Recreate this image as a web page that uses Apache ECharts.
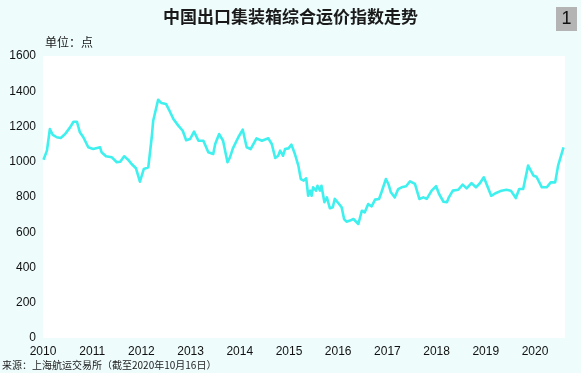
<!DOCTYPE html>
<html>
<head>
<meta charset="utf-8">
<script src="https://cdn.jsdelivr.net/npm/echarts@6/dist/echarts.min.js"></script>
<style>
html,body{margin:0;padding:0;background:#eefcfc;}
#c{width:581px;height:373px;}
</style>
</head>
<body>
<div id="c"></div>
<script>
// Decimal year of each reading
const years = [
2010.01,2010.08,2010.14,2010.20,2010.28,2010.36,2010.45,2010.55,2010.62,2010.69,
2010.75,2010.82,2010.92,2011.02,2011.16,2011.19,2011.28,2011.40,2011.44,2011.50,
2011.57,2011.65,2011.73,2011.80,2011.89,2011.97,2012.05,2012.14,2012.21,2012.24,
2012.34,2012.41,2012.50,2012.58,2012.65,2012.75,2012.84,2012.91,2012.99,2013.07,
2013.16,2013.26,2013.36,2013.46,2013.50,2013.58,2013.66,2013.75,2013.80,2013.86,
2013.90,2013.97,2014.06,2014.14,2014.22,2014.34,2014.45,2014.58,2014.65,2014.72,
2014.78,2014.82,2014.88,2014.92,2014.99,2015.05,2015.12,2015.19,2015.24,2015.30,
2015.35,2015.39,2015.43,2015.46,2015.49,2015.55,2015.58,2015.63,2015.66,2015.72,
2015.77,2015.83,2015.89,2015.93,2016.00,2016.07,2016.12,2016.17,2016.24,2016.31,
2016.41,2016.48,2016.54,2016.61,2016.68,2016.75,2016.83,2016.88,2016.97,2017.02,
2017.07,2017.15,2017.22,2017.29,2017.38,2017.46,2017.56,2017.65,2017.73,2017.80,
2017.90,2017.99,2018.05,2018.14,2018.21,2018.25,2018.33,2018.44,2018.53,2018.61,
2018.71,2018.80,2018.88,2018.96,2019.11,2019.21,2019.32,2019.42,2019.51,2019.61,
2019.68,2019.76,2019.86,2019.97,2020.03,2020.14,2020.24,2020.32,2020.41,2020.47,
2020.58
];
// CCFI index values (点)
const ccfi = [
1011,1063,1186,1152,1139,1135,1157,1195,1227,1227,
1167,1139,1082,1072,1082,1054,1031,1025,1016,997,
1000,1031,1012,987,963,887,959,968,1139,1233,
1352,1333,1328,1284,1243,1205,1176,1122,1129,1171,
1119,1119,1054,1044,1101,1157,1119,997,1025,1076,
1072,1139,1182,1082,1072,1133,1119,1133,1101,1021,
1034,1063,1034,1072,1076,1097,1044,978,902,893,
906,807,836,807,855,836,864,836,864,770,
798,736,742,789,766,742,675,660,666,675,
647,722,713,760,747,785,789,827,902,874,
827,798,845,855,861,889,874,789,798,789,
836,861,817,773,770,798,836,841,870,849,
879,855,878,912,807,823,836,841,836,794,
845,845,978,921,915,855,855,883,883,978,
1082
];
const yearTicks = [2010,2011,2012,2013,2014,2015,2016,2017,2018,2019,2020];
const valueTicks = [0,200,400,600,800,1000,1200,1400,1600];

const chart = echarts.init(document.getElementById('c'), null, {renderer:'canvas'});
const FONT = '"Liberation Sans", Arial, sans-serif';
chart.setOption({
  backgroundColor: '#eefcfc',
  animation: false,
  title: [
    {text: '中国出口集装箱综合运价指数走势', left: 'center', top: 8, padding: 0,
     textStyle: {fontSize: 17, fontWeight: 'bold', color: '#1a1a1a', fontFamily: '"Noto Sans CJK SC", sans-serif'}},
    {text: '单位：点', left: 45, top: 36, padding: 0,
     textStyle: {fontSize: 12, fontWeight: 'normal', color: '#1a1a1a', fontFamily: '"Noto Sans CJK SC", sans-serif'}}
  ],
  graphic: [
    {type: 'rect', shape: {x: 556, y: 7, width: 21, height: 24}, style: {fill: '#b4b4b4'}},
    {type: 'text', x: 566.5, y: 19.5, style: {text: '1', align: 'center', verticalAlign: 'middle', fontSize: 18, fill: '#111', fontFamily: FONT}},
    {type: 'text', x: 2, y: 365, style: {text: '来源：上海航运交易所（截至2020年10月16日）', align: 'left', verticalAlign: 'middle', fontSize: 10, fill: '#222', fontFamily: '"Noto Sans CJK SC", sans-serif'}}
  ],
  grid: {left: 43, right: 16, top: 56, bottom: 35, show: true, backgroundColor: '#ffffff', borderWidth: 0},
  xAxis: {
    type: 'value', min: yearTicks[0], max: 2020.61, interval: 1,
    axisLine: {show: false}, axisTick: {show: false}, splitLine: {show: false},
    axisLabel: {margin: 8, fontSize: 12, color: '#111', fontFamily: FONT, showMaxLabel: false,
      formatter: v => yearTicks.includes(v) ? String(v) : ''}
  },
  yAxis: {
    type: 'value', min: valueTicks[0], max: valueTicks[valueTicks.length-1], interval: 200,
    axisLine: {show: false}, axisTick: {show: false}, splitLine: {show: false},
    axisLabel: {margin: 7, fontSize: 12, color: '#111', fontFamily: FONT,
      formatter: v => String(v)}
  },
  series: [{
    type: 'line',
    data: years.map((y, i) => [y, ccfi[i]]),
    showSymbol: false,
    lineStyle: {color: '#3ef0ee', width: 2.6, join: 'round'},
    z: 3
  }]
});
</script>
</body>
</html>
